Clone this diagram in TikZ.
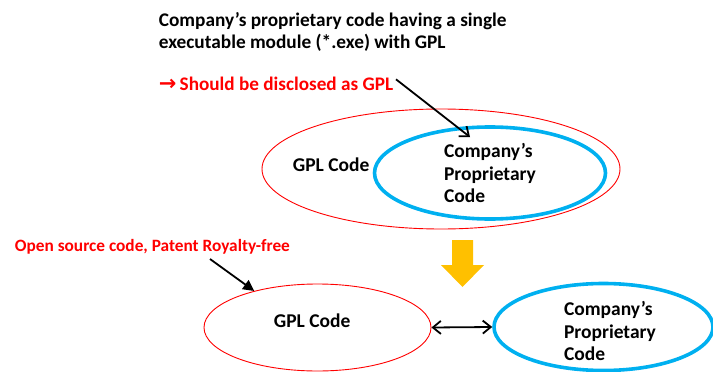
\documentclass[tikz,border=0pt]{standalone}
\usepackage{fontspec}
\setmainfont{Carlito}
\newfontfamily\arrowfont{DejaVu Sans}
\usetikzlibrary{arrows.meta, shapes.geometric}
\definecolor{cred}{HTML}{FF0000}
\definecolor{cblue}{HTML}{00B0F0}
\definecolor{cgold}{HTML}{FFC000}
\tikzset{
  every picture/.style={font=\bfseries, line width=1.8pt},
  gpl/.style={draw=cred, ellipse, line width=0.9pt, inner sep=0pt},
  own/.style={draw=cblue, ellipse, line width=3.6pt, inner sep=0pt, align=left},
  txt/.style={inner sep=0pt, font=\bfseries\fontsize{19.5}{22.5}\selectfont, align=left},
  head/.style={inner sep=0pt, font=\bfseries\fontsize{19.3}{22}\selectfont, align=left},
  warn/.style={inner sep=0pt, text=cred},
  open/.style={-{Straight Barb[length=8pt, width=13pt]}, draw=black},
  solid/.style={-{Triangle[length=11pt, width=11pt]}, draw=black},
  both/.style={{Straight Barb[length=8pt, width=13pt]}-{Straight Barb[length=8pt, width=13pt]}, draw=black},
}

\begin{document}
\begin{tikzpicture}[x=1pt, y=-1pt]
  \useasboundingbox (0,0) rectangle (713,372);

  % ---- top: one executable
  \node[head, anchor=north west] (title) at (158,12)
    {Company’s proprietary code having a single\\executable module (*.exe) with GPL};
  \node[warn, font=\bfseries\fontsize{19.2}{22}\selectfont, anchor=base west] (disc) at (158,90)
    {{\arrowfont\bfseries\fontsize{21}{22}\selectfont →}\,Should be disclosed as GPL};

  \node[gpl, minimum width=358, minimum height=120] (gplA) at (441,169) {};
  \node[txt, anchor=base west] (gplAtxt) at (292,171) {GPL Code};
  \node[own, txt, minimum width=231, minimum height=92] (ownA) at (490,173)
    {Company’s\\Proprietary\\Code};
  \coordinate (tipA) at (470,137);
  \draw[open] (disc.east) ++(2,-4) -- (tipA);

  % ---- down arrow
  \fill[cgold] (452,240) -- (473,240) -- (473,265) -- (484,265) -- (462.5,287)
    -- (441,265) -- (452,265) -- cycle;

  % ---- bottom: separated
  \node[warn, font=\bfseries\fontsize{17.3}{20}\selectfont, anchor=base west] (free) at (14,251)
    {Open source code, Patent Royalty-free};
  \node[gpl, minimum width=227, minimum height=87] (gplB) at (317.5,327.5) {};
  \node[txt, anchor=base west] (gplBtxt) at (273,327) {GPL Code};
  \node[own, minimum width=219, minimum height=87] (ownB) at (603.5,327) {};
  \node[txt] (ownBtxt) at (610,331) {Company’s\\Proprietary\\Code};

  \coordinate (tailB) at (210,259);
  \draw[solid] (tailB) -- (gplB.150);
  \draw[both] (gplB.east) -- (ownB.west);
\end{tikzpicture}
\end{document}
